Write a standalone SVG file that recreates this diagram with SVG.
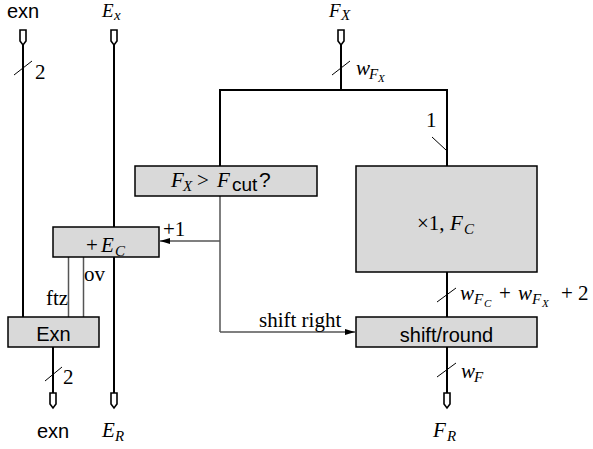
<svg xmlns="http://www.w3.org/2000/svg" width="593" height="449" viewBox="0 0 593 449">
<style>
.bus{stroke:#000;stroke-width:2;fill:none}
.sig{stroke:#555;stroke-width:1.5;fill:none}
.tick{stroke:#000;stroke-width:1;fill:none}
.box{fill:#d9d9d9;stroke:#000;stroke-width:1.5}
.port{fill:#fff;stroke:#000;stroke-width:1.6}
.sans{font-family:"Liberation Sans",Arial,sans-serif;font-size:20px;fill:#000;font-style:normal}
.serif{font-family:"Liberation Serif","Times New Roman",serif;font-size:21px;fill:#000}
.math{font-family:"Liberation Serif","Times New Roman",serif;font-size:21px;fill:#000;font-style:italic}
.top{font-size:19px}
.up{font-style:normal}
.s1{font-size:15px}
.s2{font-size:11px}
</style>
<defs>
<marker id="ah" viewBox="0 0 10 6" refX="10" refY="3" markerWidth="10" markerHeight="6" markerUnits="userSpaceOnUse" orient="auto">
<path d="M0,0 L10,3 L0,6 z" fill="#000"/>
</marker>
<path id="pt" class="port" d="M-3,0 h6 v11 l-3,4 l-3,-4 z"/>
</defs>

<g id="connectors">
<line class="bus" x1="23" y1="45" x2="23" y2="317"/>
<line class="tick" x1="14" y1="75" x2="32" y2="61"/>
<line class="bus" x1="114" y1="45" x2="114" y2="393"/>
<line class="bus" x1="341" y1="45" x2="341" y2="90"/>
<line class="tick" x1="332" y1="75" x2="350" y2="61"/>
<polyline class="bus" points="220,166 220,90 447,90 447,166"/>
<line class="tick" x1="432" y1="137" x2="446" y2="150"/>
<line class="sig" x1="220" y1="196" x2="220" y2="332"/>
<line class="sig" x1="220" y1="241" x2="160" y2="241" marker-end="url(#ah)"/>
<line class="sig" x1="220" y1="332" x2="355" y2="332" stroke="#222" marker-end="url(#ah)"/>
<line class="sig" x1="68.5" y1="257" x2="68.5" y2="317"/>
<line class="sig" x1="83.5" y1="257" x2="83.5" y2="317"/>
<line class="bus" x1="53" y1="347" x2="53" y2="393"/>
<line class="tick" x1="45" y1="381" x2="62" y2="367"/>
<line class="bus" x1="447" y1="272" x2="447" y2="317"/>
<line class="tick" x1="437" y1="302" x2="456" y2="288"/>
<line class="bus" x1="447" y1="347" x2="447" y2="393"/>
<line class="tick" x1="437" y1="377" x2="456" y2="363"/>
</g>

<g id="port-exn-in"><use href="#pt" x="23" y="30"/><text class="sans" x="23" y="18" text-anchor="middle">exn</text><text class="serif" x="35" y="79">2</text></g>
<g id="port-Ex"><use href="#pt" x="114" y="30"/><text class="math top" x="102" y="17">E<tspan class="s1" x="114" y="20">x</tspan></text></g>
<g id="port-FX"><use href="#pt" x="341" y="30"/><text class="math top" x="329" y="17">F<tspan class="s1" x="341" y="20">X</tspan></text>
<text class="math" x="356" y="75">w<tspan class="s1" x="369" y="79">F</tspan><tspan class="s2" x="378" y="82">X</tspan></text></g>
<g id="label-1"><text class="serif" x="426" y="127">1</text></g>

<g id="cmp"><rect class="box" x="135" y="166" width="182" height="30"/>
<text class="math" x="171" y="187">F<tspan class="s1" x="183" y="191">X</tspan><tspan class="up" x="197" y="187">&gt;</tspan><tspan x="217" y="187">F</tspan><tspan class="sans" style="font-size:19px" x="232" y="191">cut</tspan><tspan class="sans" style="font-size:21px" x="259" y="187">?</tspan></text></g>

<g id="mult"><rect class="box" x="356" y="166" width="181" height="106"/>
<text class="math" x="417" y="230"><tspan class="up">×1,</tspan><tspan x="450" y="230">F</tspan><tspan class="s1" x="464" y="234">C</tspan></text></g>

<g id="addE"><rect class="box" x="53" y="227" width="106" height="30"/>
<text class="math" x="86" y="252"><tspan class="up">+</tspan><tspan x="101" y="252">E</tspan><tspan class="s1" x="115" y="256">C</tspan></text>
<text class="serif" x="163" y="236">+1</text>
<text class="serif" x="84" y="281">ov</text>
<text class="serif" x="46" y="305">ftz</text></g>

<g id="exnbox"><rect class="box" x="8" y="317" width="91" height="30"/>
<text class="sans" x="53.5" y="341" text-anchor="middle">Exn</text></g>

<g id="shift"><rect class="box" x="356" y="317" width="181" height="30"/>
<text class="sans" x="446.5" y="342" text-anchor="middle">shift/round</text>
<text class="serif" x="259" y="327">shift right</text>
<text class="math" x="460" y="300">w<tspan class="s1" x="474" y="304">F</tspan><tspan class="s2" x="484" y="307">C</tspan><tspan class="up" x="499" y="300">+</tspan><tspan x="518" y="300">w</tspan><tspan class="s1" x="532" y="304">F</tspan><tspan class="s2" x="542" y="307">X</tspan><tspan class="up" x="561" y="300">+</tspan><tspan class="up" x="578" y="300">2</tspan></text>
<text class="math" x="461" y="378">w<tspan class="s1" x="474" y="382">F</tspan></text></g>

<g id="port-exn-out"><use href="#pt" x="53" y="393"/><text class="sans" x="53" y="438" text-anchor="middle">exn</text><text class="serif" x="63" y="384">2</text></g>
<g id="port-ER"><use href="#pt" x="114" y="393"/><text class="math" x="102" y="437">E<tspan class="s1" x="115" y="441">R</tspan></text></g>
<g id="port-FR"><use href="#pt" x="447" y="393"/><text class="math" x="433" y="437">F<tspan class="s1" x="447" y="441">R</tspan></text></g>
</svg>
